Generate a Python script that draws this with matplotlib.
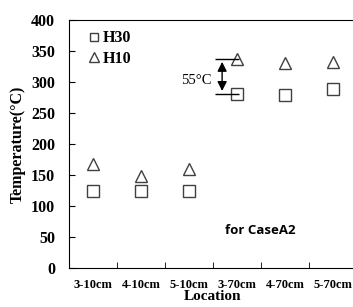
import numpy as np
import matplotlib.pyplot as plt

locations = ['3-10cm', '4-10cm', '5-10cm', '3-70cm', '4-70cm', '5-70cm']
h30 = [124, 124, 125, 281, 279, 289]
h10 = [168, 148, 160, 337, 330, 332]

serif = 'Liberation Serif'

fig = plt.figure(figsize=(3.53, 3.07), dpi=100)
ax = fig.add_axes([69/353, 1 - 268/307, 288/353, 248/307])

x = np.arange(len(locations))
ax.plot(x, h30, linestyle='none', marker='s', ms=8, mfc='none', mec='#404040', mew=1.0, label='H30')
ax.plot(x, h10, linestyle='none', marker='^', ms=9, mfc='none', mec='#404040', mew=1.0, label='H10')

ax.set_xlim(-0.5, 5.5)
ax.set_ylim(0, 400)
ax.set_yticks(np.arange(0, 401, 50))
ax.set_xticks(x)
ax.set_xticklabels(locations, fontfamily=serif, fontweight='bold', fontsize=9)
ax.set_xticks(np.arange(0.5, 5, 1), minor=True)
ax.tick_params(axis='x', which='major', length=0, pad=8)
ax.tick_params(axis='x', which='minor', direction='in', length=4)
ax.tick_params(axis='y', direction='in', length=4, pad=10)
for lab in ax.get_yticklabels():
    lab.set_fontfamily(serif)
    lab.set_fontweight('bold')
    lab.set_fontsize(11.5)
ax.spines['right'].set_visible(False)

ax.set_ylabel('Temperature(°C)', fontfamily=serif, fontweight='bold', fontsize=11.5, labelpad=4)
ax.set_xlabel('Location', fontfamily=serif, fontweight='bold', fontsize=11, labelpad=-1)

# 55°C difference marker
ax.hlines([h10[3], h30[3]], 2.54, 3.05, color='black', lw=1)
ax.annotate('', xy=(2.69, h10[3]), xytext=(2.69, h30[3]),
            arrowprops=dict(arrowstyle='<|-|>', color='black', lw=1, mutation_scale=14))
ax.text(2.46, 303, '55°C', fontfamily=serif, fontsize=10.5, ha='right', va='center')

ax.text(3.48, 61, 'for CaseA2', fontfamily='Open Sans', fontweight='bold', fontsize=9.5, ha='center', va='center')

leg = ax.legend(loc='upper left', bbox_to_anchor=(0.05, 0.985), frameon=False,
                handlelength=0.5, handletextpad=0.3, borderaxespad=0,
                labelspacing=0.3, markerscale=0.75,
                prop={'family': serif, 'weight': 'bold', 'size': 11.5})

fig.savefig('out.png', dpi=100)
